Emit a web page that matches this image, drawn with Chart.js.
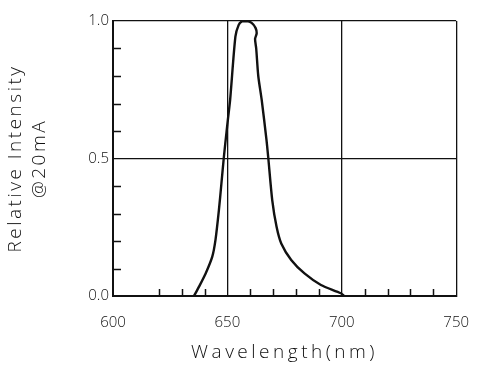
<!DOCTYPE html>
<html lang="en">
  <head>
    <meta charset="UTF-8" />
    <title>Relative Intensity vs Wavelength</title>
    <script src="https://cdn.jsdelivr.net/npm/chart.js"></script>
    <style>
      body {
        margin: 0;
        background: #fff;
      }
      .wrap {
        width: 487px;
        height: 365px;
      }
    </style>
  </head>
  <body>
    <div class="wrap"><canvas id="spectrum"></canvas></div>

    <script>
      // spectrum (nm, relative intensity)
      const wavelengths = [
        635.4, 637.6, 640.5, 643.4, 644.8, 646.3, 647.4, 648.4, 649.1, 650.2,
        651.2, 653.5, 654.9, 656.3, 658.5, 660.6, 662.3, 662.8, 662.1, 662.6,
        663.5, 665.0, 667.1, 667.9, 669.6, 671.5, 673.6, 677.9, 683.7, 690.9,
        699.6, 701.0,
      ];
      const intensities = [
        0.0, 0.034, 0.082, 0.143, 0.204, 0.313, 0.41, 0.5, 0.556, 0.64,
        0.713, 0.943, 0.985, 0.998, 1.0, 0.993, 0.975, 0.955, 0.935, 0.9,
        0.8, 0.713, 0.567, 0.5, 0.349, 0.252, 0.19, 0.131, 0.082, 0.04,
        0.01, 0.0,
      ];

      const xTickValues = [600, 650, 700, 750];
      const yTickValues = [0, 0.5, 1];
      const xMinorTicks = [620, 630, 640, 660, 670, 680, 690, 710, 720, 730, 740];
      const yMinorTicks = [0.1, 0.2, 0.3, 0.4, 0.6, 0.7, 0.8, 0.9];

      const xTitle = "Wavelength(nm)";
      const yTitle = ["Relative Intensity", "@20mA"];

      const ink = "#111";
      const fontFamily = "'Open Sans', 'DejaVu Sans', sans-serif";

      // wide plotter-like lettering for the axis titles only
      const titleSpacing = {
        id: "titleSpacing",
        afterLayout(chart) {
          Object.values(chart.scales).forEach((s) => {
            if (s._spaced) return;
            const drawTitle = s.drawTitle.bind(s);
            s.drawTitle = function () {
              const prev = this.ctx.letterSpacing;
              this.ctx.letterSpacing = s.axis === "x" ? "3.5px" : "2.5px";
              drawTitle();
              this.ctx.letterSpacing = prev;
            };
            s._spaced = true;
          });
        },
      };

      // small inward tick marks on the bottom and left frame
      const minorTicks = {
        id: "minorTicks",
        afterDatasetsDraw(chart) {
          const { ctx, chartArea: a, scales } = chart;
          ctx.save();
          ctx.strokeStyle = ink;
          ctx.lineWidth = 1.5;
          ctx.beginPath();
          xMinorTicks.forEach((v) => {
            const px = Math.round(scales.x.getPixelForValue(v)) + 0.5;
            ctx.moveTo(px, a.bottom);
            ctx.lineTo(px, a.bottom - 7);
          });
          yMinorTicks.forEach((v) => {
            const py = Math.round(scales.y.getPixelForValue(v)) + 0.5;
            ctx.moveTo(a.left, py);
            ctx.lineTo(a.left + 8, py);
          });
          ctx.stroke();
          ctx.restore();
        },
      };

      const points = wavelengths.map((w, i) => ({ x: w, y: intensities[i] }));

      new Chart(document.getElementById("spectrum"), {
        type: "line",
        data: {
          datasets: [
            {
              data: points,
              borderColor: ink,
              borderWidth: 2.4,
              pointRadius: 0,
              tension: 0.25,
              fill: false,
            },
          ],
        },
        options: {
          responsive: true,
          maintainAspectRatio: false,
          animation: false,
          devicePixelRatio: 1,
          layout: { padding: { top: 21, right: 27, left: 0, bottom: 0 } },
          plugins: {
            legend: { display: false },
            tooltip: { enabled: false },
          },
          scales: {
            x: {
              type: "linear",
              min: 600,
              max: 750,
              afterBuildTicks: (scale) => {
                scale.ticks = xTickValues.map((v) => ({ value: v }));
              },
              afterFit: (scale) => {
                scale.height = 69;
              },
              ticks: {
                color: ink,
                padding: 18,
                font: { family: fontFamily, size: 15, weight: "300" },
              },
              grid: { color: ink, lineWidth: 1.3, drawTicks: false },
              border: { color: ink, width: 2 },
              title: {
                display: true,
                text: xTitle,
                color: ink,
                font: { family: fontFamily, size: 19, weight: "300" },
                padding: { top: 0, bottom: 1 },
              },
            },
            y: {
              min: 0,
              max: 1,
              afterBuildTicks: (scale) => {
                scale.ticks = yTickValues.map((v) => ({ value: v }));
              },
              afterFit: (scale) => {
                scale.width = 113;
              },
              ticks: {
                color: ink,
                padding: 4,
                font: { family: fontFamily, size: 15, weight: "300" },
                callback: (v) => v.toFixed(1),
              },
              grid: { color: ink, lineWidth: 1.3, drawTicks: false },
              border: { color: ink, width: 2 },
              title: {
                display: true,
                text: yTitle,
                color: ink,
                font: { family: fontFamily, size: 19, weight: "300", lineHeight: 1.25 },
                padding: { top: 4, bottom: 0 },
              },
            },
          },
        },
        plugins: [titleSpacing, minorTicks],
      });
    </script>
  </body>
</html>
